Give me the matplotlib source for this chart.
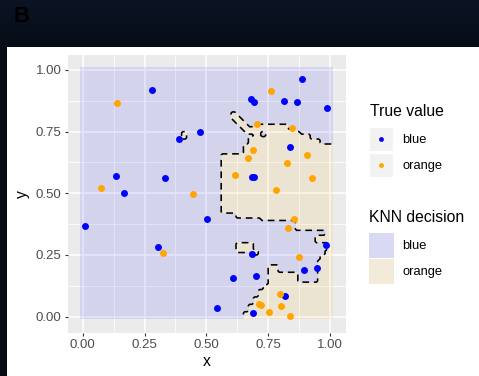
import numpy as np
import matplotlib
matplotlib.use("Agg")
from matplotlib import pyplot as plt
from matplotlib.patches import Rectangle
from matplotlib.colors import LinearSegmentedColormap

plt.rcParams['font.family'] = ['Liberation Sans', 'DejaVu Sans']

# points, true class
blue_x = [0.280, 0.009, 0.135, 0.168, 0.333, 0.391, 0.474, 0.306, 0.501, 0.886,
          0.679, 0.694, 0.813, 0.865, 0.989, 0.838, 0.683, 0.693, 0.683, 0.609,
          0.700, 0.544, 0.690, 0.819, 0.895, 0.946, 0.984]
blue_y = [0.919, 0.367, 0.570, 0.503, 0.563, 0.719, 0.749, 0.284, 0.396, 0.964,
          0.884, 0.872, 0.876, 0.872, 0.845, 0.689, 0.568, 0.568, 0.255, 0.157,
          0.164, 0.036, 0.015, 0.084, 0.189, 0.196, 0.291]
orange_x = [0.139, 0.073, 0.446, 0.323, 0.760, 0.706, 0.846, 0.687, 0.670, 0.908,
            0.825, 0.615, 0.926, 0.780, 0.856, 0.831, 0.876, 0.798, 0.714, 0.720,
            0.803, 0.755, 0.840]
orange_y = [0.866, 0.522, 0.497, 0.257, 0.915, 0.781, 0.764, 0.676, 0.642, 0.655,
            0.624, 0.574, 0.561, 0.514, 0.396, 0.361, 0.242, 0.091, 0.052, 0.049,
            0.042, 0.018, 0.004]

# KNN decision = orange inside these blocks (x0, x1, y0, y1), blue elsewhere
orange_strips = [
    # upper region
    (0.565, 0.620, 0.420, 0.665), (0.620, 0.650, 0.400, 0.665),
    (0.650, 0.670, 0.405, 0.700), (0.670, 0.690, 0.405, 0.730),
    (0.690, 0.720, 0.405, 0.780), (0.720, 0.740, 0.395, 0.730),
    (0.720, 0.740, 0.750, 0.780), (0.740, 0.830, 0.390, 0.780),
    (0.830, 0.860, 0.390, 0.765), (0.860, 0.880, 0.355, 0.755),
    (0.880, 0.920, 0.355, 0.740), (0.920, 0.960, 0.355, 0.722),
    (0.960, 0.980, 0.355, 0.705), (0.980, 0.990, 0.300, 0.700),
    (0.945, 0.980, 0.300, 0.335), (0.990, 1.010, -0.010, 0.700),
    # thin tongue
    (0.600, 0.620, 0.805, 0.835), (0.610, 0.630, 0.795, 0.825),
    (0.620, 0.640, 0.785, 0.815), (0.630, 0.650, 0.775, 0.805),
    (0.640, 0.660, 0.765, 0.795), (0.650, 0.670, 0.755, 0.785),
    (0.660, 0.690, 0.740, 0.775),
    # small islands
    (0.400, 0.420, 0.725, 0.755),
    (0.620, 0.695, 0.258, 0.305), (0.695, 0.712, 0.252, 0.272),
    # lower region
    (0.650, 0.670, -0.010, 0.020), (0.670, 0.690, -0.010, 0.050),
    (0.690, 0.710, -0.010, 0.080), (0.710, 0.730, -0.010, 0.115),
    (0.730, 0.755, -0.010, 0.135), (0.755, 0.790, -0.010, 0.210),
    (0.790, 0.875, -0.010, 0.180), (0.875, 0.950, -0.010, 0.140),
    (0.950, 0.965, -0.010, 0.225), (0.965, 0.980, -0.010, 0.250),
    (0.980, 0.990, -0.010, 0.270),
]

ticks = [0, 0.25, 0.5, 0.75, 1]
tick_labels = ["0.00", "0.25", "0.50", "0.75", "1.00"]

W, H = 479, 376
fig = plt.figure(figsize=(W / 100, H / 100), dpi=100)
fig.patch.set_facecolor('white')

# background: dark header band + left strip, and the legend, in pixel coords
bg = fig.add_axes([0, 0, 1, 1], zorder=-5)
hdr = LinearSegmentedColormap.from_list('hdr', ['#0b1423', '#070d18'])
bg.imshow(np.linspace(0, 1, 50).reshape(-1, 1), extent=(0, W, 47, 0),
          cmap=hdr, aspect='auto')
bg.add_patch(Rectangle((0, 47), 7, H - 47, color='#060b14', lw=0))
bg.set_xlim(0, W)
bg.set_ylim(H, 0)
bg.axis('off')
bg.text(22, 16, 'B', fontsize=16, fontweight='bold', color='black',
        ha='center', va='center')

# main panel
ax = fig.add_axes([68 / W, 1 - 332.7 / H, (345.7 - 68) / W, (332.7 - 54.7) / H])
ax.set_facecolor('#EBEBEB')
for s in ax.spines.values():
    s.set_visible(False)

edges = np.linspace(-0.01, 1.01, 103)
centers = (edges[:-1] + edges[1:]) / 2
CX, CY = np.meshgrid(centers, centers)
mask = np.zeros_like(CX)
for x0, x1, y0, y1 in orange_strips:
    mask[(CX >= x0) & (CX < x1) & (CY >= y0) & (CY < y1)] = 1

col_blue = np.array([0, 0, 1, 0.1])
col_orange = np.array([1, 0.647, 0, 0.1])
img = np.where(mask[..., None] > 0.5, col_orange, col_blue)
ax.imshow(img, extent=(-0.01, 1.01, -0.01, 1.01), origin='lower',
          aspect='auto', interpolation='nearest', zorder=1)
ax.contour(CX, CY, mask, levels=[0.5], colors='black', linewidths=1.15,
           linestyles=[(0, (4.2, 3))], zorder=2)

ax.scatter(blue_x, blue_y, s=25, color='#0000FF', lw=0, zorder=3)
ax.scatter(orange_x, orange_y, s=25, color='#FFA500', lw=0, zorder=3)

ax.set_xlim(-0.0594, 1.0635)
ax.set_ylim(-0.065, 1.062)
ax.set_xticks(ticks)
ax.set_xticklabels(tick_labels)
ax.set_yticks(ticks)
ax.set_yticklabels(tick_labels)
ax.set_xticks([0.125, 0.375, 0.625, 0.875], minor=True)
ax.set_yticks([0.125, 0.375, 0.625, 0.875], minor=True)
ax.grid(which='major', color='white', lw=1.1)
ax.grid(which='minor', color='white', lw=0.55)
ax.set_axisbelow(True)
ax.tick_params(which='major', length=2.5, width=0.8, color='#333333',
               labelsize=9.5, labelcolor='#4D4D4D', pad=2)
ax.tick_params(which='minor', length=0)
ax.set_xlabel('x', fontsize=11.3, labelpad=2)
ax.set_ylabel('y', fontsize=11.3, labelpad=4)

# legend
bg.text(370, 112, 'True value', fontsize=11.3, va='center', ha='left')
for yk, c, lab in [(127.5, '#0000FF', 'blue'), (153.5, '#FFA500', 'orange')]:
    bg.add_patch(Rectangle((370, yk), 23, 23, color='#F2F2F2', lw=0))
    bg.scatter([381.5], [yk + 11.5], s=12, color=c, lw=0)
    bg.text(402.5, yk + 12.5, lab, fontsize=9.3, va='center', ha='left')

bg.text(369, 217.7, 'KNN decision', fontsize=11.3, va='center', ha='left')
for yk, c, lab in [(233, col_blue, 'blue'), (259, col_orange, 'orange')]:
    bg.add_patch(Rectangle((369, yk), 25, 25, color='#F2F2F2', lw=0))
    bg.add_patch(Rectangle((369, yk), 25, 25, color=tuple(c), lw=0))
    bg.text(402.5, yk + 13, lab, fontsize=9.3, va='center', ha='left')

fig.savefig('out.png', dpi=100)
